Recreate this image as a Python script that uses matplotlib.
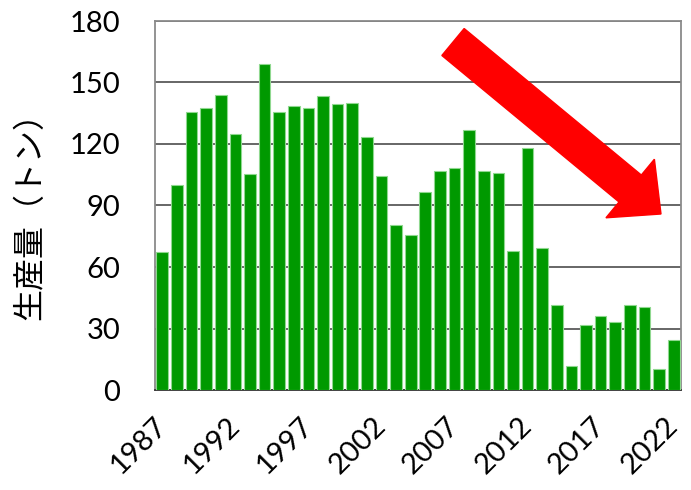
import matplotlib
matplotlib.use("Agg")
import matplotlib.pyplot as plt
from matplotlib.patches import FancyArrow
from matplotlib.transforms import IdentityTransform

years = list(range(1987, 2023))
production = [67.2, 100, 135.5, 137.8, 144, 125, 105.3, 159, 135.8, 138.4,
              137.8, 143.4, 139.7, 140, 123.5, 104.4, 80.7, 75.7, 96.4, 106.6,
              108.1, 126.7, 106.6, 106, 67.9, 118, 69.5, 41.5, 11.5, 31.9,
              36, 33.2, 41.7, 40.7, 10.4, 24.6]
tick_years = [1987, 1992, 1997, 2002, 2007, 2012, 2017, 2022]
y_ticks = [0, 30, 60, 90, 120, 150, 180]
ylabel = "生産量（トン）"

fig = plt.figure(figsize=(6.91, 4.90), dpi=100)
ax = fig.add_axes([155/691, 1 - 390/490, (681-155)/691, (390-21)/490])

x = list(range(len(years)))
ax.bar(x, production, width=0.8, color="#009900", edgecolor="#8fd88f",
       linewidth=0.8, zorder=3)
ax.set_xlim(-0.5, len(years) - 0.5)
ax.set_ylim(0, 180)
ax.set_yticks(y_ticks)
ax.yaxis.grid(True, color="#666666", linewidth=1.4, zorder=0)
ax.set_axisbelow(True)

tick_pos = [years.index(t) for t in tick_years]
ax.set_xticks(tick_pos)
ax.set_xticklabels([str(t) for t in tick_years], rotation=45, ha="right",
                   va="center", rotation_mode="anchor")
ax.tick_params(axis="both", length=0, labelsize=21)
ax.tick_params(axis="y", pad=25)
ax.tick_params(axis="x", pad=23)
for lab in ax.get_xticklabels() + ax.get_yticklabels():
    lab.set_fontfamily("Lato")

for s in ["left", "right", "top"]:
    ax.spines[s].set_color("#8a8a8a")
    ax.spines[s].set_linewidth(1.3)
ax.spines["bottom"].set_color("#333333")
ax.spines["bottom"].set_linewidth(1.3)

fig.text(30/691, 1 - 208/490, ylabel, rotation=90, ha="center", va="center",
         fontsize=23, family=["Noto Sans CJK JP", "DejaVu Sans"])

# red arrow (pixel coordinates, y measured from bottom)
x0, y0 = 453, 490 - 42
x1, y1 = 661, 490 - 214
arrow = FancyArrow(x0, y0, x1 - x0, y1 - y0, width=35, head_width=76,
                   head_length=40, length_includes_head=True,
                   color="#ff0000", transform=IdentityTransform(), zorder=10)
fig.patches.append(arrow)

fig.savefig("out.png", dpi=100)
